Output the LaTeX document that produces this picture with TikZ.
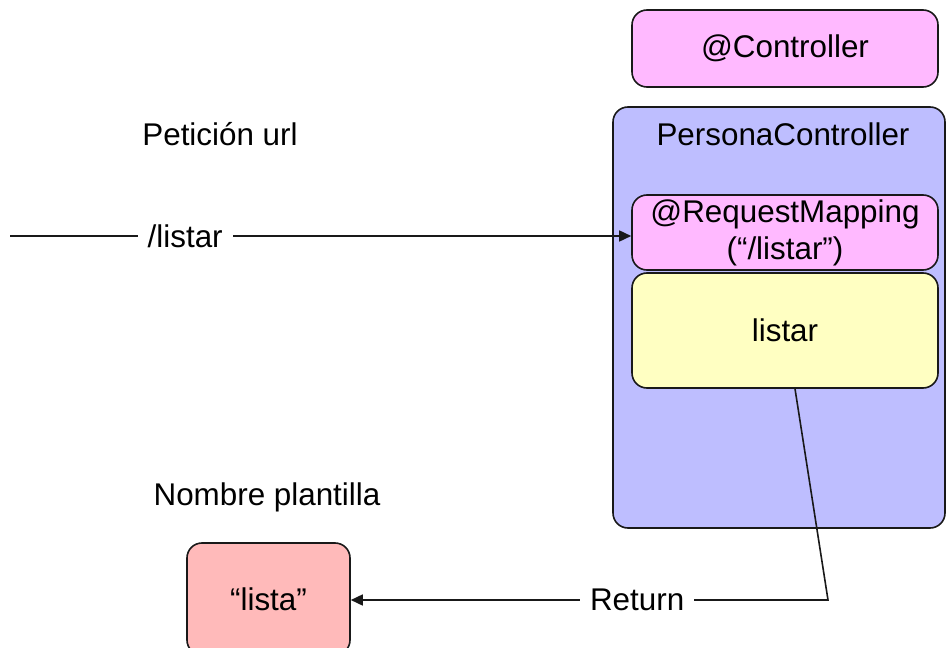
\documentclass[tikz,border=0pt]{standalone}
\usepackage{fontspec}
\setmainfont{Liberation Sans}
\usetikzlibrary{arrows.meta,calc}
\definecolor{annpink}{RGB}{255,185,255}
\definecolor{classblue}{RGB}{190,190,255}
\definecolor{methyellow}{RGB}{255,255,194}
\definecolor{viewred}{RGB}{255,186,186}
\tikzset{
  box/.style={draw=black!90, line width=1.6bp, rounded corners=15bp, inner sep=0pt, align=center},
  lbl/.style={inner sep=0pt, align=center},
  gaplbl/.style={fill=white, inner xsep=10bp, inner ysep=2bp},
  link/.style={line width=1.6bp, draw=black!90},
  tip/.style={-{Triangle[length=12bp,width=11bp]}}
}
\begin{document}
\begin{tikzpicture}[x=1bp,y=-1bp,font=\fontsize{31.5}{37}\selectfont]
\useasboundingbox (0,0) rectangle (946,648);
% controller class and its parts
\node[box, fill=annpink, minimum width=306bp, minimum height=77bp] (ctrl) at (785,48.5) {@Controller};
\node[box, fill=classblue, minimum width=332bp, minimum height=421bp] (pc) at (779,317.5) {};
\node[lbl] (pctitle) at (783,134) {PersonaController};
\node[box, fill=annpink, minimum width=306bp, minimum height=75bp] (rm) at (785,232.5) {@RequestMapping\\(“/listar”)};
\node[box, fill=methyellow, minimum width=306bp, minimum height=115bp] (lst) at (785,330.5) {listar};
% view name
\node[box, fill=viewred, minimum width=163bp, minimum height=112bp] (lista) at (268.5,599) {“lista”};
\node[lbl] (petic) at (220,134) {Petición url};
\node[lbl] (nombre) at (267,497) {Nombre plantilla};
% incoming request
\coordinate (req) at (10,236);
\draw[link, tip] (req) -- (req -| rm.west) node[pos=0.282, gaplbl] (urllbl) {/listar};
% returned view name
\coordinate (out) at ($(lst.south)+(10,0)$);
\coordinate (bend) at (828,600);
\draw[link, tip] (out) -- (bend) -- (bend -| lista.east) node[pos=0.4, gaplbl] (retlbl) {Return};
\end{tikzpicture}
\end{document}
